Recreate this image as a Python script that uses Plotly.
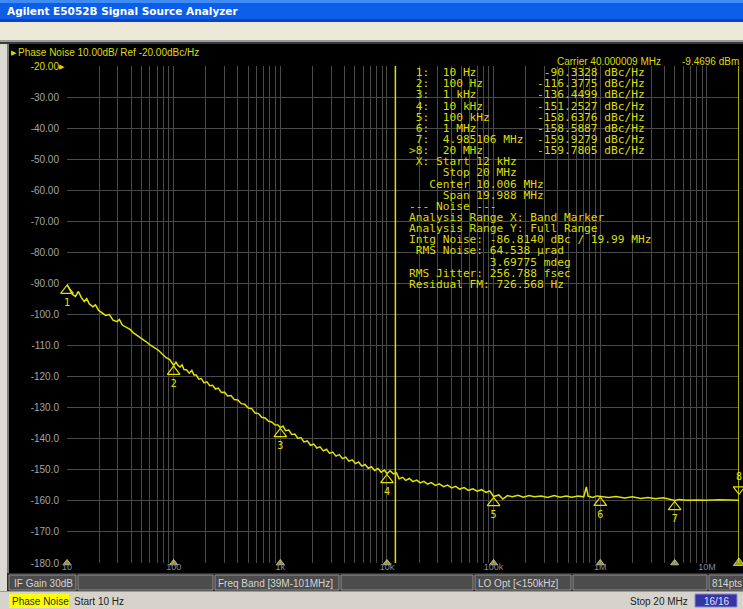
import plotly.graph_objects as go

# ---------------- data ----------------
trace_freq = [10, 10.5, 11.2, 12.0, 12.8, 13.6, 14.5, 15.3, 16.2, 17.5, 18.5, 19.8, 21.5, 23, 25, 27,
              29.5, 31, 33, 36, 39, 42, 46, 50, 55, 60, 66, 72, 78, 85, 92,
              100, 105, 110, 115, 120, 125, 132, 140, 148, 155, 163, 172, 182, 193, 205, 218, 232,
              247, 262, 280, 300, 320, 345, 370, 400, 430, 465, 500, 540, 580, 625, 670, 720, 775,
              830, 890, 950, 1000, 1060, 1120, 1200, 1280, 1370, 1460, 1560, 1670, 1790, 1920,
              2060, 2200, 2360, 2530, 2710, 2900, 3100, 3330, 3570, 3830, 4100, 4400, 4720, 5060,
              5420, 5810, 6230, 6680, 7160, 7680, 8230, 8820, 9450, 10000, 10700, 11500, 12300,
              13000, 14000, 15000, 16200, 17500, 19000, 20500, 22200, 24000, 26000, 28500, 31000,
              34000, 37000, 40500, 44000, 48000, 53000, 58000, 64000, 70000, 77000, 85000, 92000,
              100000, 112000, 122000, 135000, 150000, 170000, 190000, 215000, 240000, 280000,
              320000, 370000, 420000, 480000, 540000, 620000, 700000, 740000, 770000, 850000,
              930000, 1000000, 1200000, 1400000, 1700000, 2000000, 2400000, 2800000, 3300000,
              3900000, 4400000, 4985106, 5500000, 6500000, 8000000, 10000000, 13000000, 16000000,
              20000000]
trace_dbc = [-90.3, -91.5, -93.5, -94.2, -92.6, -94.5, -95.8, -94.9, -96.6, -97.5, -96.9, -98.7,
             -99.5, -100.3, -100.0, -101.8, -102.3, -101.6, -103.4, -104.2, -104.8, -105.9, -106.8,
             -107.6, -108.7, -109.8, -110.6, -111.5, -112.7, -113.9, -114.5,
             -116.4, -115.3, -116.4, -116.9, -116.2, -117.7, -117.8, -118.9, -118.0, -119.5, -119.5,
             -120.8, -120.6, -122.0, -121.7, -122.9, -122.8, -124.0, -123.7, -125.1, -125.0, -126.2,
             -126.1, -127.4, -127.5, -128.7, -128.9, -130.1, -130.3, -131.7, -131.9, -133.1, -133.3,
             -134.4, -134.6, -135.5, -135.6, -136.4, -135.9, -137.4, -137.2, -138.6, -138.5, -139.9,
             -139.6, -141.0, -140.7, -142.1, -141.7, -143.0, -142.6, -143.9, -143.4, -144.7, -144.3,
             -145.6, -145.1, -146.4, -145.9, -147.2, -146.8, -148.0, -147.5, -148.8, -148.3, -149.5,
             -149.0, -150.2, -149.6, -150.8, -150.1, -151.25, -150.3, -151.3, -151.0, -152.9, -152.4,
             -153.4, -152.8, -153.8, -153.3, -154.2, -153.7, -154.6, -154.1, -155.0, -154.5, -155.4,
             -154.9, -155.8, -155.3, -156.2, -155.7, -156.6, -156.1, -156.9, -156.4, -157.3, -156.8,
             -158.6, -158.1, -159.4, -158.3, -158.7, -158.2, -158.8, -158.3, -158.7, -158.4, -158.9,
             -158.3, -158.8, -158.4, -158.8, -158.4, -158.7, -155.5, -158.5, -158.9, -158.4, -158.6,
             -158.9, -158.6, -159.1, -158.7, -159.2, -158.9, -159.3, -159.0, -159.4, -159.9, -159.6,
             -159.8, -159.7, -159.8, -159.6, -159.8, -159.78]

marker_freq = [10, 100, 1e3, 1e4, 1e5, 1e6, 4.985106e6, 2e7]
marker_val = [-90.3328, -116.3775, -136.4499, -151.2527, -158.6376, -158.5887, -159.9279, -159.7805]
marker_name = ["1", "2", "3", "4", "5", "6", "7", "8"]
marker_prefix = [" 1:", " 2:", " 3:", " 4:", " 5:", " 6:", " 7:", ">8:"]
marker_freq_text = ["10 Hz", "100 Hz", "1 kHz", "10 kHz", "100 kHz", "1 MHz", "4.985106 MHz", "20 MHz"]
marker_val_text = ["-90.3328", "-116.3775", "-136.4499", "-151.2527", "-158.6376", "-158.5887",
                   "-159.9279", "-159.7805"]

band_start = 12000
band_stop = 20000000

analysis_lines = [
    " X: Start 12 kHz",
    "     Stop 20 MHz",
    "   Center 10.006 MHz",
    "     Span 19.988 MHz",
    "--- Noise ---",
    "Analysis Range X: Band Marker",
    "Analysis Range Y: Full Range",
    "Intg Noise: -86.8140 dBc / 19.99 MHz",
    " RMS Noise: 64.538 \u00b5rad",
    "            3.69775 mdeg",
    "RMS Jitter: 256.788 fsec",
    "Residual FM: 726.568 Hz",
]

y_ticks = list(range(-180, -10, 10))
x_decades = [10, 100, 1e3, 1e4, 1e5, 1e6, 1e7]
x_decade_text = ["10", "100", "1k", "10k", "100k", "1M", "10M"]

title_text = "Agilent E5052B Signal Source Analyzer"
header_text = "Phase Noise 10.00dB/ Ref -20.00dBc/Hz"
carrier_text = "Carrier 40.000009 MHz"
carrier_power = "-9.4696 dBm"
status1 = [("IF Gain 30dB", 12), ("Freq Band [39M-101MHz]", 216), ("LO Opt [<150kHz]", 476), ("814pts", 710)]

# ---------------- geometry ----------------
W, H = 743, 609
L, R, T, B = 67, 739, 66, 563
YEL = "#E2E200"
TXT_YEL = "#DCDC00"
GRID = "#4a4a4a"


def px(x):
    return (x - L) / (R - L)


def py(y):
    return (B - y) / (B - T)


fig = go.Figure()

# main trace
fig.add_trace(go.Scatter(x=trace_freq, y=trace_dbc, mode="lines",
                         line=dict(color=YEL, width=1.5), hoverinfo="skip", showlegend=False))

# band lines
for bx in (band_start, band_stop):
    fig.add_trace(go.Scatter(x=[bx, bx], y=[-180, -18.7], mode="lines", cliponaxis=False,
                             line=dict(color=YEL, width=1.5), hoverinfo="skip", showlegend=False))
fig.add_trace(go.Scatter(x=[band_start * 1.12, band_stop / 1.1], y=[-19.6, -19.6], mode="markers",
                         cliponaxis=False,
                         marker=dict(symbol=["triangle-nw", "triangle-ne"], size=7, color=YEL),
                         hoverinfo="skip", showlegend=False))

# marker triangles (1-7 below trace, 8 above)
off = 2.0
fig.add_trace(go.Scatter(x=marker_freq[:7], y=[v - off for v in marker_val[:7]], mode="markers+text",
                         cliponaxis=False, text=marker_name[:7], textposition="bottom center",
                         textfont=dict(family="DejaVu Sans Mono", size=10, color=YEL),
                         marker=dict(symbol="triangle-up-open", size=11, color=YEL, line=dict(width=1.2, color=YEL)),
                         hoverinfo="skip", showlegend=False))
fig.add_trace(go.Scatter(x=marker_freq[7:], y=[v + off + 1.5 for v in marker_val[7:]], mode="markers+text",
                         cliponaxis=False, text=marker_name[7:], textposition="top center",
                         textfont=dict(family="DejaVu Sans Mono", size=10, color=YEL),
                         marker=dict(symbol="triangle-down-open", size=10, color=YEL, line=dict(width=1.2, color=YEL)),
                         hoverinfo="skip", showlegend=False))
# bottom axis marker indicators
fig.add_trace(go.Scatter(x=marker_freq, y=[-180] * len(marker_freq), mode="markers", cliponaxis=False,
                         marker=dict(symbol="triangle-up", size=[7] * 7 + [10], color=YEL),
                         hoverinfo="skip", showlegend=False))

# axes
xtv, xtt = [], []
for d in x_decades:
    for m in range(1, 10):
        v = d * m
        if v > 2e7:
            break
        xtv.append(v)
        xtt.append(x_decade_text[x_decades.index(d)] if m == 1 else "")
xtv.append(2e7)
xtt.append("")

ytt = []
for v in y_ticks:
    s = f"{v:.2f}" if v > -100 else f"{v:.1f}"
    if v == -20:
        s = f"<span style='color:{TXT_YEL}'>{s}</span>"
    ytt.append(s)

fig.update_xaxes(type="log", range=[1, 7.30103], tickvals=xtv, ticktext=xtt, showgrid=True,
                 gridcolor=GRID, gridwidth=1, zeroline=False, showline=False, ticks="",
                 tickfont=dict(family="Liberation Sans, Arial", size=9, color="#8a8a8a"),
                 ticklabelstandoff=-3)
fig.update_yaxes(range=[-180, -20], tickvals=y_ticks, ticktext=ytt, showgrid=True, gridcolor=GRID,
                 gridwidth=1, zeroline=False, showline=False, ticks="",
                 tickfont=dict(family="Liberation Sans, Arial", size=10, color="#a4a4a4"),
                 ticklabelstandoff=7)

shapes = []


def rect(x0, y0, x1, y1, fill, line=None, lw=0):
    shapes.append(dict(type="rect", xref="paper", yref="paper", x0=px(x0), x1=px(x1), y0=py(y1), y1=py(y0),
                       fillcolor=fill, line=dict(color=line or fill, width=lw), layer="above"))


# window chrome
rect(0, 0, W, 22, "#0C5DE8")
rect(0, 0, W, 3, "#3F8CF6")
rect(0, 19, W, 22, "#0A43C4")
rect(0, 22, W, 40, "#ECE9D8")
rect(0, 40, W, 42, "#9a9a9a")
rect(0, 42, W, 44, "#3a3a3a")
rect(0, 44, 7, H, "#DCDAD2")
rect(7, 44, 9, 591, "#7a7a7a")
# status row 1
rect(7, 573, W, 591, "#2e2e2e")
for x0, x1 in [(9, 76), (78, 213), (215, 339), (341, 473), (475, 571), (573, 707), (709, W + 2)]:
    rect(x0, 575, x1, 590, "#4c4c4c", "#8e8e8e", 1)
# status row 2
rect(0, 591, W, H, "#D6D3CC")
rect(0, 591, W, 592, "#9a9a9a")
rect(9, 594, 69, 608, "#FFFF00")
rect(695, 594, 737, 607, "#3535A6", "#8c8cd0", 1)

annotations = []


def ann(text, x, y, size=10, color="#d0d0d0", family="Liberation Sans, Arial", xanchor="left", bold=False,
        height=None):
    if bold:
        text = f"<b>{text}</b>"
    a = dict(text=text, x=px(x), y=py(y), xref="paper", yref="paper", xanchor=xanchor,
             yanchor="middle", showarrow=False, font=dict(family=family, size=size, color=color))
    if height:
        a["height"] = height
        a["valign"] = "middle"
    annotations.append(a)


ann(title_text, 5, 11, size=10.5, color="white", family="DejaVu Sans, Verdana", bold=True)
ann("\u25b6", 9, 52, size=7, color=TXT_YEL)
ann(header_text, 16, 52, size=10, color=TXT_YEL)
ann("\u25b6", 66.5, 66, size=7, color=TXT_YEL, xanchor="right")
ann(carrier_text, 555, 61, size=10, color=TXT_YEL)
ann(carrier_power, 741, 61, size=10, color=TXT_YEL, xanchor="right")

table_lines = []
for p, ft, vt in zip(marker_prefix, marker_freq_text, marker_val_text):
    table_lines.append(f"{p}  {ft:<14}{vt:>9} dBc/Hz")
table_lines += analysis_lines
for i, line in enumerate(table_lines):
    ann(line.replace(" ", "\u00a0"), 406.7, 72.7 + i * 11.14, size=11.2, color=TXT_YEL,
        family="DejaVu Sans Mono, Liberation Mono, monospace", height=11)

for t, x in status1:
    ann(t, x, 583, size=10, color="#d4d4d4")
ann("Phase Noise", 10, 601, size=10, color="#2a2a2a")
ann("Start 10 Hz", 72, 601, size=10, color="#222222")
ann("Stop 20 MHz", 690, 601, size=10, color="#222222", xanchor="right")
ann("16/16", 716, 601, size=10, color="#e0e0ff", xanchor="center")

fig.update_layout(width=W, height=H, margin=dict(l=L, r=W - R, t=T, b=H - B, pad=0),
                  paper_bgcolor="black", plot_bgcolor="black", showlegend=False,
                  shapes=shapes, annotations=annotations)

fig.write_html("out.html", config={"displayModeBar": False},
               post_script="document.body.style.margin='0';document.body.style.overflow='hidden';")
